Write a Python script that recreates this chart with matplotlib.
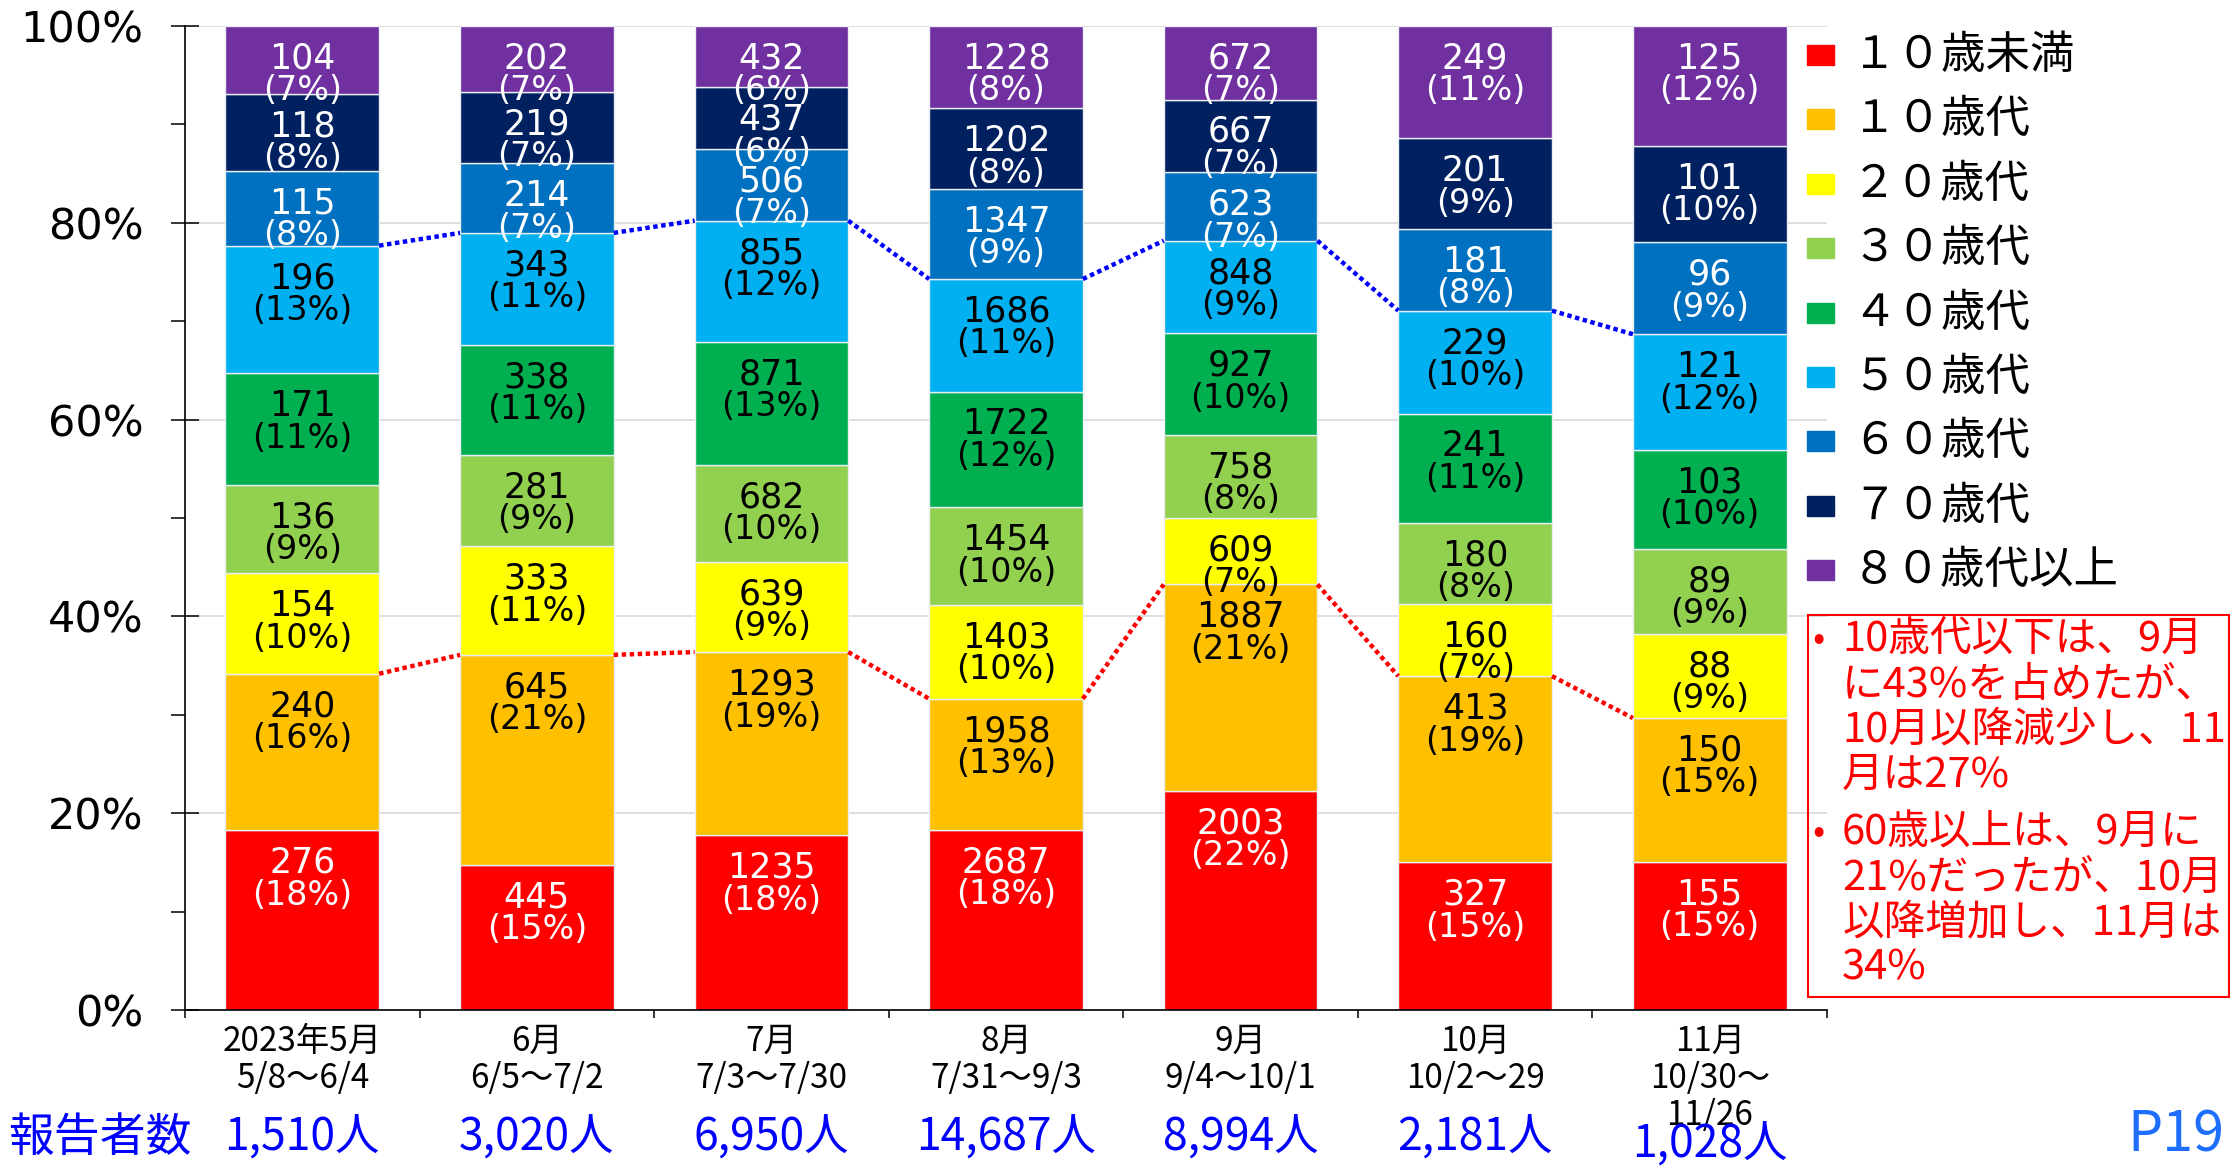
import matplotlib
matplotlib.use('Agg')
import matplotlib.pyplot as plt
from matplotlib.patches import Rectangle
from matplotlib.ticker import FixedLocator
import matplotlib.transforms as mtransforms
import numpy as np

JP = ['Noto Sans CJK JP', 'DejaVu Sans']
NUM = ['DejaVu Sans', 'Noto Sans CJK JP']
plt.rcParams['font.family'] = JP

# --- data (counts per age group, bottom -> top) ---
months = ['2023年5月\n5/8～6/4', '6月\n6/5～7/2', '7月\n7/3～7/30', '8月\n7/31～9/3',
          '9月\n9/4～10/1', '10月\n10/2～29', '11月\n10/30～\n11/26']
groups = ['１０歳未満', '１０歳代', '２０歳代', '３０歳代', '４０歳代',
          '５０歳代', '６０歳代', '７０歳代', '８０歳代以上']
under10 = [276, 445, 1235, 2687, 2003, 327, 155]
age10 = [240, 645, 1293, 1958, 1887, 413, 150]
age20 = [154, 333, 639, 1403, 609, 160, 88]
age30 = [136, 281, 682, 1454, 758, 180, 89]
age40 = [171, 338, 871, 1722, 927, 241, 103]
age50 = [196, 343, 855, 1686, 848, 229, 121]
age60 = [115, 214, 506, 1347, 623, 181, 96]
age70 = [118, 219, 437, 1202, 667, 201, 101]
age80 = [104, 202, 432, 1228, 672, 249, 125]
reporters = [1510, 3020, 6950, 14687, 8994, 2181, 1028]

note1 = ['10歳代以下は、9月', 'に43%を占めたが、', '10月以降減少し、11', '月は27%']
note2 = ['60歳以上は、9月に', '21%だったが、10月', '以降増加し、11月は', '34%']

colors = ['#FF0000', '#FFC000', '#FFFF00', '#92D050', '#00B050',
          '#00B0F0', '#0070C0', '#002060', '#7030A0']
txt_colors = ['white', 'black', 'black', 'black', 'black',
              'black', 'white', 'white', 'white']

series = [under10, age10, age20, age30, age40, age50, age60, age70, age80]
counts = np.array(series, dtype=float)
total = np.array(reporters, dtype=float)
pct = counts / total * 100

W, H = 2232, 1167
fig = plt.figure(figsize=(W / 100, H / 100), dpi=100)
ax = fig.add_axes([185 / W, 1 - 1010 / H, (1827 - 185) / W, (1010 - 26) / H])

x = np.arange(len(months))
bw = 0.655
bottom = np.zeros(len(months))
for k in range(len(series)):
    ax.bar(x, pct[k], bw, bottom=bottom, color=colors[k], edgecolor='#e8eef5',
           linewidth=1.0, zorder=2)
    for i in range(len(months)):
        top = bottom[i] + pct[k][i]
        ax.text(x[i], top - 3.3, f'{int(counts[k][i])}', ha='center', va='center',
                fontsize=25, color=txt_colors[k], family=NUM, zorder=4)
        ax.text(x[i], top - 6.6, f'({pct[k][i]:.0f}%)', ha='center', va='center',
                fontsize=24, color=txt_colors[k], family=NUM, zorder=4)
    bottom += pct[k]

# dotted connectors: top of 10s (red) and top of 50s (blue)
cum10 = pct[:2].sum(axis=0)
cum50 = pct[:6].sum(axis=0)
for i in range(len(months) - 1):
    xs = [x[i] + bw / 2, x[i + 1] - bw / 2]
    ax.plot(xs, [cum10[i], cum10[i + 1]], color='#FF0000', lw=3.2,
            linestyle=(0, (1.0, 0.8)), zorder=3)
    ax.plot(xs, [cum50[i], cum50[i + 1]], color='#0000FF', lw=3.2,
            linestyle=(0, (1.0, 0.8)), zorder=3)

ax.set_xlim(-0.5, len(months) - 0.5)
ax.set_ylim(0, 100)
ax.set_yticks([0, 20, 40, 60, 80, 100])
ax.set_yticklabels(['0%', '20%', '40%', '60%', '80%', '100%'], family=NUM, fontsize=31)
ax.yaxis.set_minor_locator(FixedLocator([10, 30, 50, 70, 90]))
ax.tick_params(axis='y', which='major', direction='inout', length=20, width=1.1, pad=20)
ax.tick_params(axis='y', which='minor', direction='out', length=10, width=1.1)
ax.set_xticks(x)
ax.set_xticklabels(months, fontsize=24, linespacing=1.08)
ax.xaxis.set_minor_locator(FixedLocator(np.arange(-0.5, len(months), 1.0)))
ax.tick_params(axis='x', which='major', length=0, pad=10)
ax.tick_params(axis='x', which='minor', direction='out', length=6, width=1.1)
ax.yaxis.grid(True, which='major', color='#d9d9d9', lw=1.2)
ax.set_axisbelow(True)
for s in ['top', 'right']:
    ax.spines[s].set_visible(False)
for s in ['left', 'bottom']:
    ax.spines[s].set_linewidth(1.2)

# legend, top entry = bottom segment
for k, g in enumerate(groups):
    yc = 55 + 64.4 * k
    fig.add_artist(Rectangle((1807 / W, 1 - (yc + 10) / H), 27 / W, 20 / H,
                             transform=fig.transFigure, color=colors[k]))
    fig.text(1852 / W, 1 - yc / H, g, fontsize=32, va='center', ha='left')

# annotation box
fig.add_artist(Rectangle((1808 / W, 1 - 997 / H), (2229 - 1808) / W, (997 - 615) / H,
                         transform=fig.transFigure, fill=False, edgecolor='#FF0000', lw=1.5))
for start, lines in [(640, note1), (833, note2)]:
    fig.text(1812 / W, 1 - start / H, '•', fontsize=26, color='#FF0000', va='center')
    for j, line in enumerate(lines):
        fig.text(1842 / W, 1 - (start + 45 * j) / H, line, fontsize=30,
                 color='#FF0000', va='center', ha='left')

# reporter counts row (a bit lower under the three-line tick label)
trans = mtransforms.blended_transform_factory(ax.transData, fig.transFigure)
fig.text(100 / W, 1 - 1138 / H, '報告者数', fontsize=33, color='#0000FF',
         ha='center', va='center')
for i, n in enumerate(reporters):
    yc = 1138 + 7 * (months[i].count('\n') - 1)
    ax.text(x[i], 1 - yc / H, f'{n:,}人', transform=trans, fontsize=32,
            color='#0000FF', ha='center', va='center', clip_on=False)
fig.text(2176 / W, 1 - 1136 / H, 'P19', fontsize=40, color='#1E6FFF',
         ha='center', va='center')

fig.savefig('out.png', dpi=100)
